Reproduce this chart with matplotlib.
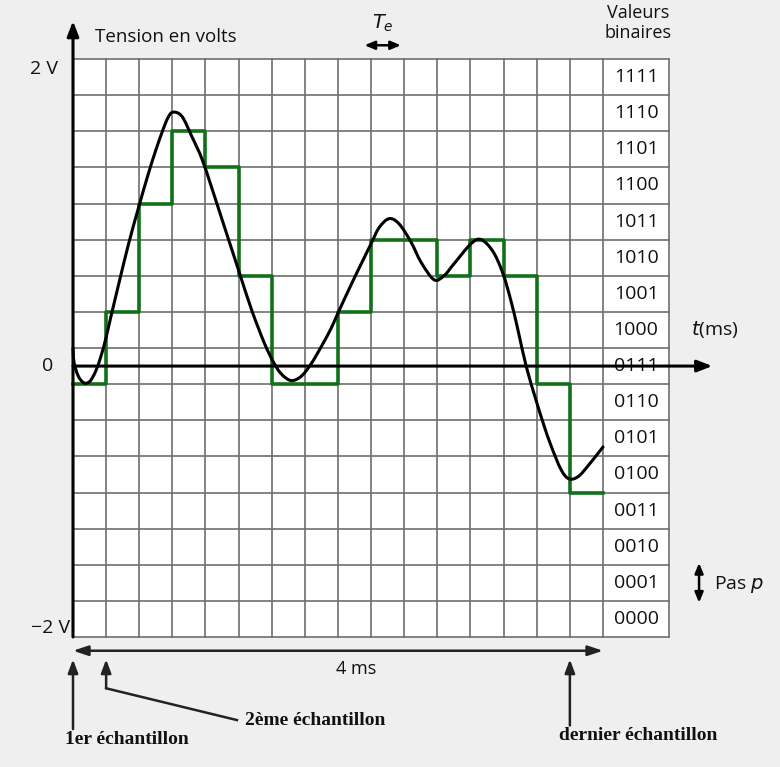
import matplotlib
matplotlib.use("Agg")
from matplotlib import pyplot as plt
from matplotlib.path import Path
from matplotlib.patches import PathPatch

# sample-and-hold levels (in quantization steps, 0..16), one per sampling period Te
sample_levels = [7, 9, 12, 14, 13, 10, 7, 7, 9, 11, 11, 10, 11, 10, 7, 4]

# analog signal (x in periods Te, y in quantization steps)
t_curve = [0.0, 0.03, 0.15, 0.3, 0.42, 0.54, 0.69, 0.84, 0.99, 1.14, 1.38, 1.68,
           1.98, 2.25, 2.49, 2.72, 2.87, 3.02, 3.29, 3.59, 3.89, 4.19, 4.58, 5.0, 5.39,
           5.77, 6.04, 6.28, 6.58, 6.88, 7.18, 7.49, 7.79, 8.0, 8.39, 8.69, 9.0,
           9.24, 9.54, 9.84, 10.2, 10.51, 10.9, 11.2, 11.5, 12.02, 12.32, 12.68,
           12.98, 13.22, 13.43, 13.68, 13.98, 14.22, 14.43, 14.73, 14.97, 15.25,
           15.55, 16.0]
v_curve = [8.0, 7.61, 7.24, 7.05, 7.03, 7.11, 7.37, 7.76, 8.26, 8.85, 9.77, 10.89,
           11.89, 12.75, 13.45, 14.05, 14.38, 14.53, 14.41, 13.85, 13.24, 12.43, 11.33,
           10.15, 9.06, 8.15, 7.63, 7.29, 7.1, 7.21, 7.55, 8.03, 8.54, 8.97, 9.74, 10.31,
           10.89, 11.33, 11.58, 11.44, 10.94, 10.37, 9.89, 10.0, 10.33, 10.89, 11.0,
           10.67, 10.06, 9.31, 8.51, 7.5, 6.55, 5.85, 5.3, 4.64, 4.38, 4.44, 4.74,
           5.26]

codes = ["0000", "0001", "0010", "0011", "0100", "0101", "0110", "0111",
         "1000", "1001", "1010", "1011", "1100", "1101", "1110", "1111"]

n_cols = 16
n_rows = 16
zero_level = 7.5


def smooth_path(xs, ys):
    # cubic bezier through the read points (catmull-rom tangents)
    pts = list(zip(xs, ys))
    verts = [pts[0]]
    codes_ = [Path.MOVETO]
    for i in range(len(pts) - 1):
        p0 = pts[max(i - 1, 0)]
        p1 = pts[i]
        p2 = pts[i + 1]
        p3 = pts[min(i + 2, len(pts) - 1)]
        c1 = (p1[0] + (p2[0] - p0[0]) / 6, p1[1] + (p2[1] - p0[1]) / 6)
        c2 = (p2[0] - (p3[0] - p1[0]) / 6, p2[1] - (p3[1] - p1[1]) / 6)
        verts += [c1, c2, p2]
        codes_ += [Path.CURVE4] * 3
    return Path(verts, codes_)


fig = plt.figure(figsize=(7.8, 7.67), dpi=100, facecolor="#efefef")
ax = fig.add_axes([0, 0, 1, 1])
ax.set_xlim(-73 / 33.125, (780 - 73) / 33.125)
ax.set_ylim(-130 / 36.125, 637 / 36.125)
ax.axis("off")

# white grid area + grid
ax.add_patch(plt.Rectangle((0, 0), 18, n_rows, facecolor="white", edgecolor="none", zorder=0))
grid_kw = dict(color="#6e6e6e", lw=1.2, zorder=1)
for i in range(n_cols + 1):
    ax.plot([i, i], [0, n_rows], **grid_kw)
ax.plot([18, 18], [0, n_rows], **grid_kw)
for j in range(n_rows + 1):
    ax.plot([0, 18], [j, j], **grid_kw)

# binary values
for k, c in enumerate(codes):
    ax.text(17, k + 0.5, c, ha="center", va="center", fontsize=14,
            family="Open Sans", color="#111111", zorder=2)

# sampled signal and analog signal
ax.plot(range(n_cols + 1), sample_levels + [sample_levels[-1]], drawstyle="steps-post",
        color="#11711a", lw=2.6, zorder=3)
ax.add_patch(PathPatch(smooth_path(t_curve, v_curve), facecolor="none", edgecolor="black",
                       lw=2.2, zorder=4, capstyle="round", joinstyle="round"))

# axes with arrows
akw = dict(arrowstyle="-|>,head_length=0.9,head_width=0.35", color="black", lw=2.2,
           shrinkA=0, shrinkB=0)
ax.annotate("", xy=(0, 17.05), xytext=(0, 0), arrowprops=akw, zorder=5)
ax.annotate("", xy=(19.3, zero_level), xytext=(0, zero_level), arrowprops=akw, zorder=5)

lab = dict(family="Open Sans", color="#111111")
ax.text(-0.45, 15.72, "2 V", ha="right", va="center", fontsize=14, **lab)
ax.text(-0.6, zero_level, "0", ha="right", va="center", fontsize=14, **lab)
ax.text(-0.1, 0.25, "\u22122 V", ha="right", va="center", fontsize=14, **lab)
ax.text(0.66, 16.6, "Tension en volts", ha="left", va="center", fontsize=13.5, **lab)
ax.text(17.05, 17.0, "Valeurs\nbinaires", ha="center", va="center", fontsize=13,
        linespacing=1.1, **lab)
ax.text(18.65, 8.5, r"$t$(ms)", ha="left", va="center", fontsize=14, **lab)

# Te marker
ax.text(9.35, 17.0, r"$T_e$", ha="center", va="center", fontsize=14, **lab)
dkw = dict(arrowstyle="<|-|>,head_length=0.6,head_width=0.25", color="black", lw=1.8,
           shrinkA=0, shrinkB=0)
ax.annotate("", xy=(8.8, 16.38), xytext=(9.9, 16.38), arrowprops=dkw)

# quantization step marker
ax.annotate("", xy=(18.9, 0.95), xytext=(18.9, 2.05), arrowprops=dkw)
ax.text(19.35, 1.45, r"Pas $p$", ha="left", va="center", fontsize=14, **lab)

# 4 ms span
ax.annotate("", xy=(0, -0.38), xytext=(16, -0.38),
            arrowprops=dict(arrowstyle="<|-|>,head_length=0.9,head_width=0.3",
                            color="#222222", lw=1.8, shrinkA=0, shrinkB=0))
ax.text(8.55, -0.88, "4 ms", ha="center", va="center", fontsize=13, **lab)

# sample annotations
ukw = dict(arrowstyle="-|>,head_length=0.8,head_width=0.3", color="#222222", lw=1.8,
           shrinkA=0, shrinkB=0)
ser = dict(family="Liberation Serif", fontweight="bold", fontsize=14, color="#111111")
ax.annotate("", xy=(0, -0.62), xytext=(0, -2.55), arrowprops=ukw)
ax.text(-0.25, -2.85, "1er \u00e9chantillon", ha="left", va="center", **ser)
ax.annotate("", xy=(1, -0.62), xytext=(1, -1.42), arrowprops=ukw)
ax.plot([1, 4.95], [-1.42, -2.3], color="#222222", lw=1.8)
ax.text(5.2, -2.3, "2\u00e8me \u00e9chantillon", ha="left", va="center", **ser)
ax.annotate("", xy=(15, -0.62), xytext=(15, -2.45), arrowprops=ukw)
ax.text(17.05, -2.72, "dernier \u00e9chantillon", ha="center", va="center", **ser)

fig.savefig("out.png", dpi=100, facecolor=fig.get_facecolor())
